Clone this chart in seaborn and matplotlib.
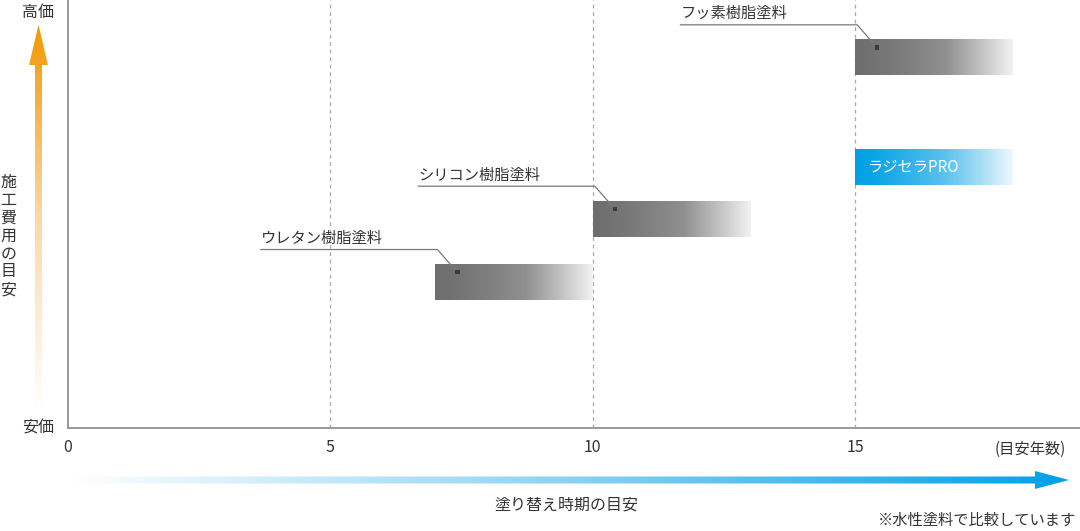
import numpy as np
import matplotlib
matplotlib.use('Agg')
import matplotlib.pyplot as plt
from matplotlib.patches import Polygon
from matplotlib.colors import LinearSegmentedColormap
import seaborn as sns

# paint types, repaint interval (years) and relative cost level (0-100)
paints = ['ウレタン樹脂塗料', 'シリコン樹脂塗料', 'フッ素樹脂塗料', 'ラジセラPRO']
start_year = [7, 10, 15, 15]
end_year = [10, 13, 18, 18]
cost_level = [34.1, 48.9, 86.6, 61.0]
x_ticks = [0, 5, 10, 15]

sns.set_theme(style='white')
plt.rcParams['font.family'] = ['Noto Sans CJK JP', 'DejaVu Sans']
TXT = '#333333'

fig = plt.figure(figsize=(10.8, 5.31), dpi=100)

# overlay in pixel coords for the two gradient arrows
ov = fig.add_axes([0, 0, 1, 1], zorder=0)
ov.set_xlim(0, 1080)
ov.set_ylim(531, 0)
ov.axis('off')

orange = LinearSegmentedColormap.from_list('o', ['#ffffff', '#fbd9a8', '#f39700'])
grad_v = np.linspace(1, 0, 256).reshape(-1, 1)
im = ov.imshow(grad_v, extent=(27, 50, 412, 25), cmap=orange, aspect='auto', origin='upper')
arrow_v = Polygon([(38.5, 25), (29, 65), (35, 65), (35, 412), (42, 412), (42, 65), (48, 65)],
                  closed=True, transform=ov.transData, facecolor='none', edgecolor='none')
ov.add_patch(arrow_v)
im.set_clip_path(arrow_v)

blue = LinearSegmentedColormap.from_list('b', ['#ffffff', '#8ad2f2', '#00a0e9'])
grad_h = np.linspace(0, 1, 256).reshape(1, -1)
im2 = ov.imshow(grad_h, extent=(68, 1070, 490, 470), cmap=blue, aspect='auto', origin='upper')
arrow_h = Polygon([(68, 476.5), (1035, 476.5), (1035, 471), (1069, 480), (1035, 489),
                   (1035, 483.5), (68, 483.5)],
                  closed=True, transform=ov.transData, facecolor='none', edgecolor='none')
ov.add_patch(arrow_h)
im2.set_clip_path(arrow_h)

ov.set_xlim(0, 1080)
ov.set_ylim(531, 0)

# main chart
ax = fig.add_axes([68 / 1080, 103 / 531, 1012 / 1080, 428 / 531], zorder=1)
ax.patch.set_alpha(0)

gray_cmap = LinearSegmentedColormap.from_list('g', ['#6e6e6e', '#909090', '#f2f2f2'])
blue_cmap = LinearSegmentedColormap.from_list('bb', ['#00a0e4', '#5cc3ee', '#eef8fd'])
bar_h = 8.4
fade = (np.linspace(0, 1, 256) ** 1.25).reshape(1, -1)

for name, s, e, c in zip(paints, start_year, end_year, cost_level):
    cmap = blue_cmap if name == 'ラジセラPRO' else gray_cmap
    ax.imshow(fade, extent=(s, e, c - bar_h / 2, c + bar_h / 2), cmap=cmap,
              aspect='auto', origin='upper', zorder=3)
    top = c + bar_h / 2
    if name == 'ラジセラPRO':
        ax.text(s + 0.25, c, name, color='white', fontsize=11, va='center', ha='left', zorder=4)
        continue
    line_y = top + 3.4
    ax.plot([s - 3.33, s + 0.04, s + 0.42], [line_y, line_y, top - 1.9],
            color='#7a7a7a', lw=0.9, zorder=4)
    sns.scatterplot(x=[s + 0.42], y=[top - 1.9], ax=ax, marker='s', s=10,
                    color='#3a3a3a', edgecolor='none', zorder=5)
    ax.text(s - 3.33, line_y + 0.6, name, color=TXT, fontsize=11, ha='left', va='bottom')

for x in x_ticks[1:]:
    ax.axvline(x, color='#a8a8a8', lw=0.9, ls=(0, (3, 3)), zorder=1)

ax.set_xlim(0, 1012 / 52.47)
ax.set_ylim(0, 100)
ax.set_xticks(x_ticks)
ax.set_xticklabels([str(t) for t in x_ticks], fontsize=11.5, color=TXT)
ax.tick_params(axis='x', length=0, pad=8)
ax.set_yticks([])
sns.despine(ax=ax, top=True, right=True)
for sp in ['left', 'bottom']:
    ax.spines[sp].set_color('#9a9a9a')
    ax.spines[sp].set_linewidth(1.4)

ax.text(18.33, -5.1, '(目安年数)', color=TXT, fontsize=11, ha='center', va='center', clip_on=False)

fig.text(38 / 1080, 1 - 12 / 531, '高価', color=TXT, fontsize=11.5, ha='center', va='center')
fig.text(38 / 1080, 1 - 428 / 531, '安価', color=TXT, fontsize=11.5, ha='center', va='center')
fig.text(8.5 / 1080, 1 - 236 / 531, '\n'.join('施工費用の目安'), color=TXT, fontsize=11.5,
         ha='center', va='center', linespacing=1.07)
fig.text(566 / 1080, 1 - 505 / 531, '塗り替え時期の目安', color=TXT, fontsize=11.5,
         ha='center', va='center')
fig.text(1076 / 1080, 1 - 520 / 531, '※水性塗料で比較しています', color=TXT, fontsize=11,
         ha='right', va='center')

fig.savefig('out.png', dpi=100)
